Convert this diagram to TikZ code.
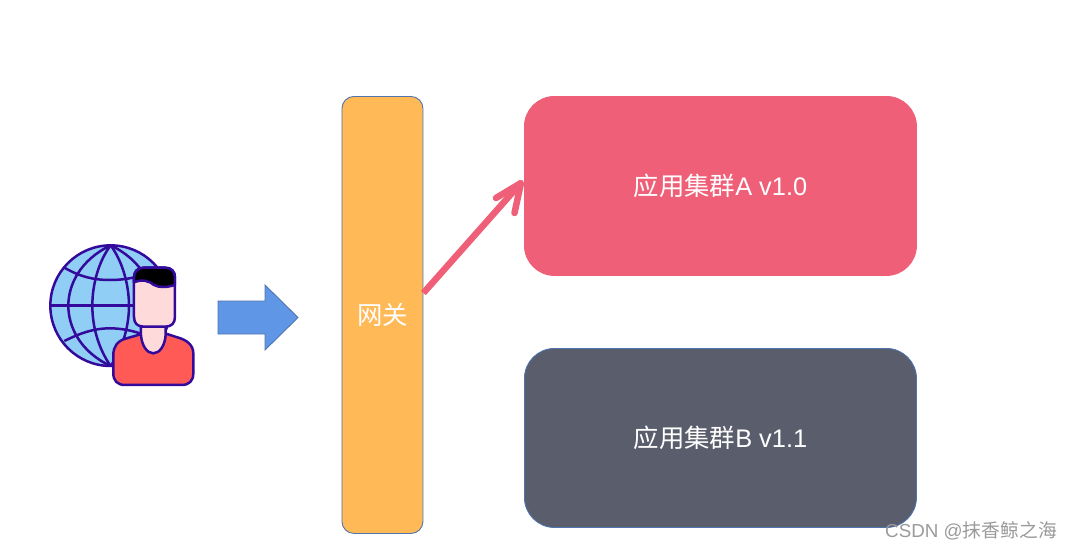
\documentclass[tikz,border=0pt]{standalone}
\usepackage{fontspec}
\setmainfont{Liberation Sans}
\newfontfamily\cjk{Noto Sans CJK SC}
\usetikzlibrary{arrows.meta}
\definecolor{gatefill}{HTML}{FFB957}
\definecolor{edgeblue}{HTML}{4F74AE}
\definecolor{pinkbox}{HTML}{EF6078}
\definecolor{darkbox}{HTML}{5A5D6C}
\definecolor{arrowblue}{HTML}{5F96E6}
\definecolor{ink}{HTML}{330A9C}
\definecolor{sky}{HTML}{90CEF5}
\definecolor{skin}{HTML}{FFDADA}
\definecolor{shirt}{HTML}{FF5A55}
\definecolor{mark}{HTML}{9A9A9A}
\tikzset{
  box/.style={draw=edgeblue,line width=0.9pt,anchor=north west,inner sep=0pt,text=white,font=\fontsize{25.4}{26}\selectfont},
  icon/.style={draw=ink,line width=2.5pt,line join=round},
}
\begin{document}
\begin{tikzpicture}[x=1pt,y=-1pt]
\useasboundingbox (0,0) rectangle (1072,550);
% globe and person drawn in zoom coordinates
\begin{scope}[shift={(30,230)},x=0.3333pt,y=-0.3333pt]
  \draw[icon,fill=sky] (242,227) circle[x radius=181,y radius=181];
  \draw[icon] (242,46) .. controls (150,90) and (115,165) .. (115,227) .. controls (115,290) and (150,365) .. (242,408);
  \draw[icon] (242,46) .. controls (334,90) and (370,165) .. (370,227) .. controls (370,290) and (334,365) .. (242,408);
  \draw[icon] (242,46) .. controls (205,95) and (187,165) .. (187,227) .. controls (187,290) and (205,355) .. (242,408);
  \draw[icon] (242,46) .. controls (278,95) and (297,165) .. (297,227) .. controls (297,290) and (278,355) .. (242,408);
  \draw[icon] (61,227) -- (423,227);
  \draw[icon] (103,113) .. controls (150,140) and (190,150) .. (240,150) .. controls (290,150) and (340,140) .. (385,113);
  \draw[icon] (103,333) .. controls (150,310) and (190,295) .. (240,295) .. controls (290,295) and (340,310) .. (385,333);
  % body
  \draw[icon,fill=shirt] (335,312) -- (290,325) .. controls (262,332) and (250,350) .. (250,375) -- (250,430) .. controls (250,452) and (262,465) .. (285,465) -- (455,465) .. controls (478,465) and (490,452) .. (490,430) -- (490,370) .. controls (490,345) and (470,330) .. (445,323) -- (405,310) -- cycle;
  % neck
  \draw[icon,fill=skin] (333,290) -- (333,315) .. controls (335,345) and (350,370) .. (370,370) .. controls (390,370) and (405,345) .. (407,315) -- (407,290) -- cycle;
  % head
  \draw[icon,fill=skin] (342,113) -- (405,113) .. controls (425,113) and (435,125) .. (435,143) -- (435,260) .. controls (435,280) and (425,290) .. (405,290) -- (342,290) .. controls (322,290) and (312,280) .. (312,260) -- (312,143) .. controls (312,125) and (322,113) .. (342,113) -- cycle;
  % hair
  \draw[icon,fill=black] (342,113) -- (405,113) .. controls (425,113) and (435,125) .. (435,143) -- (435,165) .. controls (410,172) and (390,174) .. (372,165) .. controls (358,152) and (335,147) .. (312,157) -- (312,143) .. controls (312,125) and (322,113) .. (342,113) -- cycle;
\end{scope}
% block arrow
\draw[draw=edgeblue,line width=0.9pt,fill=arrowblue] (218,301) -- (265,301) -- (265,285) -- (298,317.5) -- (265,350) -- (265,334) -- (218,334) -- cycle;
\node[box,fill=gatefill,rounded corners=12pt,minimum width=81pt,minimum height=437pt] (gate) at (341.5,96) {};
\node[text=white,font=\fontsize{25.4}{26}\selectfont] (gatelabel) at (gate.center) {\cjk 网关};
\node[box,draw=pinkbox,fill=pinkbox,rounded corners=30pt,minimum width=392pt,minimum height=179pt] (appa) at (524,96) {\cjk 应用集群\rmfamily A v1.0};
\node[box,fill=darkbox,rounded corners=30pt,minimum width=392pt,minimum height=179pt] (appb) at (524,348) {\cjk 应用集群\rmfamily B v1.1};
\coordinate (from) at (gate.east |- 0,293);
\coordinate (to) at ([xshift=-3pt,yshift=3pt]appa.west);
\coordinate (barba) at (496,198);
\coordinate (barbb) at (514.5,213);
\draw[pinkbox,line width=6.5pt] (from) -- (to);
\draw[pinkbox,line width=6.5pt,line cap=round,line join=round] (barba) -- (to) -- (barbb);
\node[text=mark,anchor=east,inner sep=0pt,font=\fontsize{18.8}{19}\selectfont] (wm) at (1057,531) {CSDN @\cjk 抹香鲸之海};
\end{tikzpicture}
\end{document}
